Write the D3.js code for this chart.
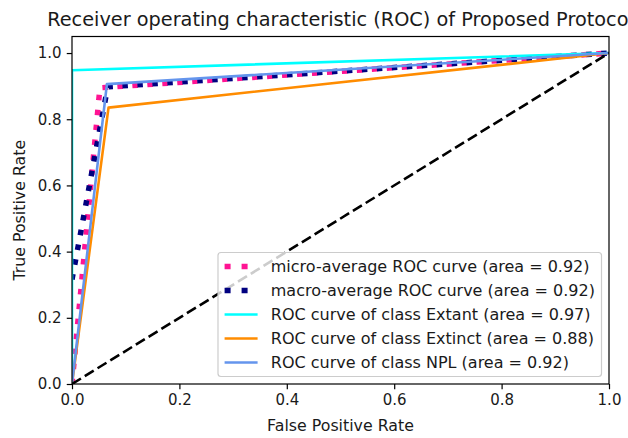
<!DOCTYPE html>
<html>
<head>
<meta charset="utf-8">
<script src="https://cdn.jsdelivr.net/npm/d3@7"></script>
<style>
  html, body { margin: 0; padding: 0; background: #fff; }
  svg { display: block; font-family: "DejaVu Sans", sans-serif; }
</style>
</head>
<body>
<div id="chart"></div>
<script>
// ROC curves
var microFpr = [0, 0.052, 1];
var microTpr = [0, 0.895, 1];
var macroFpr = [0, 0.065, 0.068, 1];
var macroTpr = [0.316, 0.885, 0.898, 1];
var extantFpr = [0, 0, 1];
var extantTpr = [0, 0.948, 1];
var extinctFpr = [0, 0.068, 1];
var extinctTpr = [0, 0.835, 1];
var nplFpr = [0, 0.065, 1];
var nplTpr = [0, 0.906, 1];
var chanceLine = [0, 1];

var seriesNames = ["micro", "macro", "Extant", "Extinct", "NPL"];
var legendLabels = [
  "micro-average ROC curve (area = 0.92)",
  "macro-average ROC curve (area = 0.92)",
  "ROC curve of class Extant (area = 0.97)",
  "ROC curve of class Extinct (area = 0.88)",
  "ROC curve of class NPL (area = 0.92)"
];
var xTicks = [0, 0.2, 0.4, 0.6, 0.8, 1.0];
var yTicks = [0, 0.2, 0.4, 0.6, 0.8, 1.0];

var titleText = "Receiver operating characteristic (ROC) of Proposed Protocol";
var xLabel = "False Positive Rate";
var yLabel = "True Positive Rate";

// canvas size
var W = 628, H = 438;
// plot area (pixels)
var px0 = 72, px1 = 609, py0 = 36.5, py1 = 384;

var styles = {
  micro:   { color: "#ff1493", width: 5.5, dash: "5.5,9.5", legDash: "6,11" },
  macro:   { color: "#000080", width: 5.5, dash: "5.5,9.5", legDash: "6,11" },
  Extant:  { color: "#00ffff", width: 2.6, dash: null, legDash: null },
  Extinct: { color: "#ff8c00", width: 2.6, dash: null, legDash: null },
  NPL:     { color: "#6495ed", width: 2.6, dash: null, legDash: null }
};

var curves = [
  { name: "micro", fpr: microFpr, tpr: microTpr },
  { name: "macro", fpr: macroFpr, tpr: macroTpr },
  { name: "Extant", fpr: extantFpr, tpr: extantTpr },
  { name: "Extinct", fpr: extinctFpr, tpr: extinctTpr },
  { name: "NPL", fpr: nplFpr, tpr: nplTpr }
];

var svg = d3.select('#chart').append('svg')
  .attr('width', W)
  .attr('height', H);

var x = d3.scaleLinear().domain([0, 1]).range([px0, px1]);
var y = d3.scaleLinear().domain([0, 1.05]).range([py1, py0]);

svg.append('defs').append('clipPath').attr('id', 'plotclip')
  .append('rect')
  .attr('x', px0).attr('y', py0)
  .attr('width', px1 - px0).attr('height', py1 - py0);

var plot = svg.append('g').attr('clip-path', 'url(#plotclip)');

var line = d3.line()
  .x(function (d) { return x(d[0]); })
  .y(function (d) { return y(d[1]); });

curves.forEach(function (c) {
  var st = styles[c.name];
  var pts = c.fpr.map(function (f, i) { return [f, c.tpr[i]]; });
  plot.append('path')
    .attr('d', line(pts))
    .attr('fill', 'none')
    .attr('stroke', st.color)
    .attr('stroke-width', st.width)
    .attr('stroke-dasharray', st.dash)
    .attr('stroke-linejoin', 'round');
});

// chance diagonal
plot.append('path')
  .attr('d', line(chanceLine.map(function (v) { return [v, v]; })))
  .attr('fill', 'none')
  .attr('stroke', '#000')
  .attr('stroke-width', 2.6)
  .attr('stroke-dasharray', '10.5,4.5');

// axes
var xAxis = d3.axisBottom(x).tickValues(xTicks).tickSize(5.25).tickPadding(5.25)
  .tickFormat(d3.format('.1f'));
var yAxis = d3.axisLeft(y).tickValues(yTicks).tickSize(5.25).tickPadding(5.25)
  .tickFormat(d3.format('.1f'));

var gx = svg.append('g').attr('transform', 'translate(0,' + py1 + ')').call(xAxis);
var gy = svg.append('g').attr('transform', 'translate(' + px0 + ',0)').call(yAxis);
[gx, gy].forEach(function (g) {
  g.select('.domain').remove();
  g.selectAll('.tick line').attr('stroke', '#000').attr('stroke-width', 1.2);
  g.selectAll('.tick text').attr('fill', '#1a1a1a')
    .attr('font-size', '15px').attr('font-family', '"DejaVu Sans", sans-serif');
});

svg.append('rect')
  .attr('x', px0).attr('y', py0)
  .attr('width', px1 - px0).attr('height', py1 - py0)
  .attr('fill', 'none').attr('stroke', '#000').attr('stroke-width', 1.2);

// title and labels
svg.append('text')
  .attr('x', (px0 + px1) / 2).attr('y', 26)
  .attr('text-anchor', 'middle')
  .attr('font-size', '19.3px')
  .attr('fill', '#1a1a1a')
  .text(titleText);

svg.append('text')
  .attr('x', (px0 + px1) / 2).attr('y', 431)
  .attr('text-anchor', 'middle')
  .attr('font-size', '15.8px')
  .attr('fill', '#1a1a1a')
  .text(xLabel);

svg.append('text')
  .attr('transform', 'translate(25,' + ((py0 + py1) / 2) + ') rotate(-90)')
  .attr('text-anchor', 'middle')
  .attr('font-size', '15.8px')
  .attr('fill', '#1a1a1a')
  .text(yLabel);

// legend, lower right
var legend = svg.append('g');
var rowH = 24, pad = 6.6, handleLen = 33, handleGap = 13.2;
var legFrame = legend.append('rect');
var texts = legend.selectAll('text.lab').data(legendLabels).enter().append('text')
  .attr('class', 'lab')
  .attr('font-size', '16px')
  .attr('fill', '#1a1a1a')
  .attr('dy', '0.35em')
  .text(function (d) { return d; });

var maxW = 0;
texts.each(function () { maxW = Math.max(maxW, this.getComputedTextLength()); });

var legRight = 601.5, legBottom = 376.5;
var legW = pad + handleLen + handleGap + maxW + pad;
var legH = rowH * legendLabels.length + 4;
var legLeft = legRight - legW, legTop = legBottom - legH;

legFrame
  .attr('x', legLeft).attr('y', legTop)
  .attr('width', legW).attr('height', legH)
  .attr('rx', 3)
  .attr('fill', '#fff').attr('fill-opacity', 0.8)
  .attr('stroke', '#cccccc').attr('stroke-width', 1.2);

texts
  .attr('x', legLeft + pad + handleLen + handleGap)
  .attr('y', function (d, i) { return legTop + 14 + i * rowH; });

legend.selectAll('line.handle').data(seriesNames).enter().append('line')
  .attr('class', 'handle')
  .attr('x1', legLeft + pad).attr('x2', legLeft + pad + handleLen)
  .attr('y1', function (d, i) { return legTop + 14 + i * rowH; })
  .attr('y2', function (d, i) { return legTop + 14 + i * rowH; })
  .attr('stroke', function (d) { return styles[d].color; })
  .attr('stroke-width', function (d) { return styles[d].width; })
  .attr('stroke-dasharray', function (d) { return styles[d].legDash; });
</script>
</body>
</html>
